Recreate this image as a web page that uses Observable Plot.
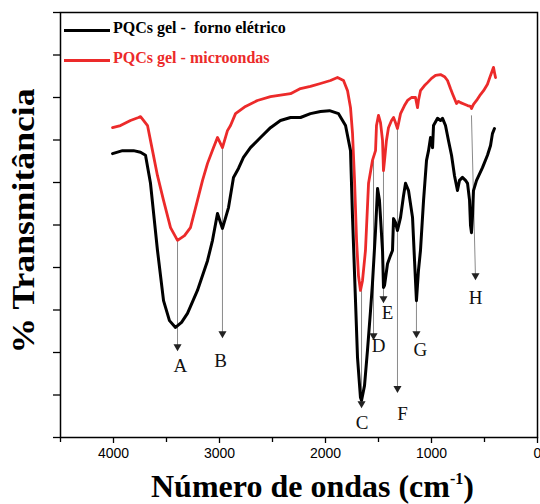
<!DOCTYPE html>
<html><head><meta charset="utf-8">
<script src="https://cdn.jsdelivr.net/npm/d3@7"></script>
<script src="https://cdn.jsdelivr.net/npm/@observablehq/plot@0.6"></script>
<style>
body{margin:0;background:#fff}
#wrap{position:relative;width:540px;height:504px;overflow:hidden}
.leg{position:absolute;left:64px;height:0}
.sw{position:absolute;left:0;width:46px;height:3px}
.lt{position:absolute;left:49px;top:-11px;font:bold 16px "Liberation Serif",serif;white-space:nowrap}
#xl{position:absolute;left:151px;top:468px;font:bold 32px "Liberation Serif",serif;white-space:nowrap;line-height:normal}
#xl sup{font-size:16px;position:relative;top:-13px;vertical-align:baseline}
</style></head><body><div id="wrap"></div><script>
// black curve: PQCs gel - forno elétrico
const wnBlack = [4009,3915,3811,3745,3698,3651,3585,3528,3472,3415,3358,3302,3208,3113,3066,3019,2972,2915,2868,2821,2774,2708,2613,2519,2425,2330,2236,2142,2047,1962,1877,1811,1764,1745,1717,1698,1670,1660,1632,1604,1575,1557,1528,1509,1491,1462,1453,1443,1415,1387,1368,1358,1340,1321,1292,1264,1245,1217,1179,1160,1142,1123,1104,1075,1047,1028,1009,990,981,943,915,896,868,840,811,783,755,736,708,679,660,641,632,623,613,604,575,519,472,443,425,406];
const tBlack = [66.8,67.5,67.5,67.1,66.4,59.8,44.0,32.2,27.5,25.9,27.1,29.2,34.6,41.6,46.4,52.7,49.2,54.1,61.2,63.3,65.9,68.2,70.6,72.9,74.6,75.3,75.3,76.2,76.7,76.9,76.2,73.4,67.5,51.8,32.2,18.8,9.4,8.7,12.2,20.5,29.9,36.2,48.7,58.6,55.8,44.0,35.3,35.8,40.9,42.8,44.0,51.5,50.6,48.7,51.8,56.9,59.8,58.1,51.8,41.6,32.2,39.3,44.0,55.8,65.2,67.5,70.6,68.2,73.4,75.1,74.6,75.1,73.4,69.9,66.4,61.6,58.1,60.5,61.2,60.5,59.8,55.8,49.9,48.2,52.2,58.1,60.5,63.5,66.4,68.7,71.5,72.7];
// red curve: PQCs gel - microondas
const wnRed = [4009,3934,3840,3764,3745,3717,3679,3632,3585,3528,3462,3396,3330,3274,3208,3160,3113,3057,3019,2972,2925,2896,2849,2755,2642,2519,2330,2236,2142,2047,1953,1887,1830,1792,1764,1745,1726,1707,1689,1670,1651,1623,1594,1557,1528,1519,1500,1481,1462,1453,1443,1425,1406,1377,1358,1340,1321,1292,1255,1226,1189,1151,1132,1123,1104,1066,1038,1000,962,915,877,849,821,802,764,745,726,689,660,632,623,604,575,538,509,472,443,425,415,406,396];
const tRed = [72.9,73.4,74.6,75.3,75.5,74.6,73.4,67.5,61.6,55.8,49.4,46.4,47.5,49.4,55.8,60.5,64.5,68.2,70.6,68.2,72.2,73.4,76.2,77.9,79.3,80.2,80.9,82.1,82.6,83.3,84.0,84.7,84.0,81.6,77.6,71.5,60.5,46.4,38.1,34.6,36.9,44.0,59.8,65.2,67.5,73.4,75.8,74.1,69.9,62.8,65.2,69.9,72.9,74.6,75.3,74.1,72.7,76.2,78.1,79.3,80.0,80.0,77.6,79.3,81.6,82.8,83.5,84.5,85.2,85.4,84.9,84.0,82.1,80.9,78.6,79.1,78.8,78.4,78.1,77.9,77.4,78.4,79.3,80.7,81.6,83.1,85.2,86.4,87.1,85.9,84.7];
// band annotations
const annLabels = ["A","B","C","D","E","F","G","H"];
const annX1 = [3396,2972,1660,1547,1453,1321,1142,623];
const annY1 = [46.4,68.2,34.6,65.2,62.8,72.7,32.2,75.8];
const annX2 = [3396,2972,1660,1547,1453,1321,1142,585];
const annY2 = [20.9,24.0,7.5,23.5,32.2,11.1,24.0,37.6];
const annLX = [3370,2990,1655,1500,1415,1274,1104,585];
const annLY = [16.9,18.1,3.5,21.6,29.4,5.6,20.5,32.9];
// ticks
const xMajor = [4000,3000,2000,1000,0];
const xMinor = [4500,3500,2500,1500,500];
const yTicks = [0,10,20,30,40,50,60,70,80,90,100];
const seriesNames = ["PQCs gel -  forno elétrico","PQCs gel - microondas"];
const seriesColors = ["#000000","#ec2a2a"];
const yLabel = "% Transmitância";

const black = wnBlack.map((w,i)=>({wn:w,t:tBlack[i]}));
const red = wnRed.map((w,i)=>({wn:w,t:tRed[i]}));
const ann = annLabels.map((l,i)=>({label:l,x1:annX1[i],y1:annY1[i],x2:annX2[i],y2:annY2[i],lx:annLX[i],ly:annLY[i]}));

const chart = Plot.plot({
  width:540, height:504, marginLeft:60, marginRight:3, marginTop:12, marginBottom:67,
  x:{domain:[4500,0]}, y:{domain:[0,100]},
  style:{background:"white", fontFamily:"'Liberation Sans', Arial, sans-serif", color:"black"},
  marks:[
    Plot.axisX({ticks:xMajor, tickSize:6, tickPadding:5, fontSize:14, label:null, tickFormat:d=>String(d), strokeWidth:1.3}),
    Plot.axisX({ticks:xMinor, tickSize:5, tickFormat:()=>"", label:null, strokeWidth:1.3}),
    Plot.axisY({ticks:yTicks, tickSize:7, tickFormat:()=>"", label:null, strokeWidth:1.3}),
    Plot.link(ann, {x1:"x1", y1:"y1", x2:"x2", y2:"y2", stroke:"#8a8a8a", strokeWidth:1}),
    Plot.line(red, {x:"wn", y:"t", stroke:seriesColors[1], strokeWidth:2.8, strokeLinejoin:"round"}),
    Plot.line(black, {x:"wn", y:"t", stroke:seriesColors[0], strokeWidth:3, strokeLinejoin:"round"}),
    Plot.dot(ann, {x:"x2", y:"y2", symbol:"triangle", rotate:180, r:3, fill:"#222", stroke:null, dy:-2}),
    Plot.text(ann, {x:"lx", y:"ly", text:"label", fontFamily:"'Liberation Serif', serif", fontSize:19, fill:"#111"}),
    Plot.text([yLabel], {frameAnchor:"left", rotate:-90, dx:-36, dy:-4, textAnchor:"middle", lineAnchor:"middle", fontSize:31, fontWeight:"bold", fontFamily:"'Liberation Serif', serif"}),
    Plot.frame({stroke:"black", strokeWidth:1.5})
  ]
});
d3.select(chart).selectAll("text").filter(function(){return this.textContent===yLabel;})
  .attr("textLength",265).attr("lengthAdjust","spacingAndGlyphs");
const wrap = document.getElementById("wrap");
wrap.appendChild(chart);
seriesNames.forEach((n,i)=>{
  const d = document.createElement("div");
  d.className="leg"; d.style.top = (i===0?30:60)+"px";
  d.innerHTML = `<div class="sw" style="background:${seriesColors[i]};top:-1px"></div><div class="lt" style="color:${seriesColors[i]}">${n.replace(/  /g," &nbsp;")}</div>`;
  wrap.appendChild(d);
});
const xl = document.createElement("div");
xl.id="xl"; xl.innerHTML = "Número de ondas (cm<sup>-1</sup>)";
wrap.appendChild(xl);
</script></body></html>
